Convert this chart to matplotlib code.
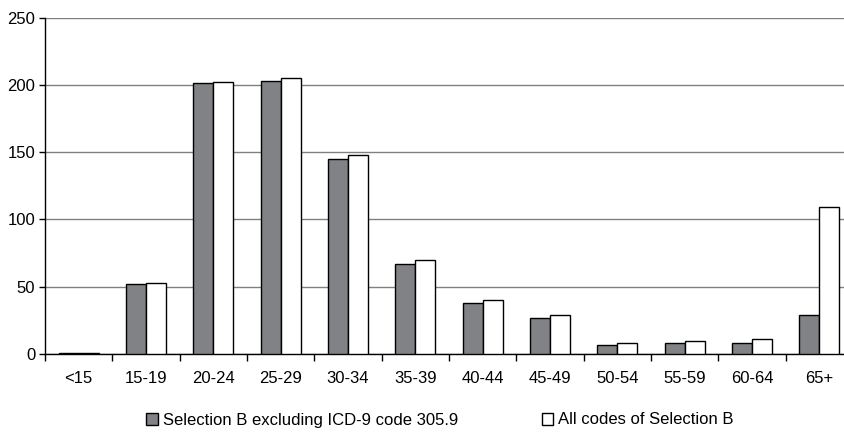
import matplotlib
matplotlib.use("Agg")
import matplotlib.pyplot as plt
import numpy as np

plt.rcParams['font.family'] = ['Liberation Sans', 'DejaVu Sans']

categories = ['<15', '15-19', '20-24', '25-29', '30-34', '35-39', '40-44',
              '45-49', '50-54', '55-59', '60-64', '65+']
excl_3059 = [1, 52, 201, 203, 145, 67, 38, 27, 7, 8, 8, 29]
all_codes = [1, 53, 202, 205, 148, 70, 40, 29, 8, 10, 11, 109]
yticks = [0, 50, 100, 150, 200, 250]
labels = ['Selection B excluding ICD-9 code 305.9', 'All codes of Selection B']

fig = plt.figure(figsize=(8.45, 4.42), dpi=100)
ax = fig.add_axes([45/845, 1 - 354/442, 808/845, (354 - 17.5)/442])

x = np.arange(len(categories))
w = 0.295
b1 = ax.bar(x - w/2, excl_3059, w, color='#808285', edgecolor='black', linewidth=1.0,
            label=labels[0], zorder=3)
b2 = ax.bar(x + w/2, all_codes, w, color='white', edgecolor='black', linewidth=1.0,
            label=labels[1], zorder=3)

ax.set_xlim(-0.5, len(categories) - 0.5)
ax.set_ylim(0, 250)
ax.set_yticks(yticks)
ax.set_yticklabels([str(v) for v in yticks], fontsize=12)
ax.yaxis.grid(True, color='#808080', linewidth=1.0, zorder=0)
ax.set_axisbelow(True)

ax.set_xticks(x)
ax.set_xticklabels(categories, fontsize=12)
ax.set_xticks(np.arange(len(categories) + 1) - 0.5, minor=True)
ax.tick_params(axis='x', which='major', length=0, pad=12)
ax.tick_params(axis='x', which='minor', length=5, width=1, color='black', direction='out')
ax.tick_params(axis='y', length=4, width=1, color='black', pad=3)

for s in ['top', 'right']:
    ax.spines[s].set_visible(False)
ax.spines['left'].set_color('black')
ax.spines['bottom'].set_color('black')
ax.spines['left'].set_linewidth(1)
ax.spines['bottom'].set_linewidth(1)

fig.legend(handles=[b1, b2], labels=labels, loc='center', bbox_to_anchor=(440/845, 1 - 420/442),
           ncol=2, frameon=False, fontsize=12, handlelength=0.7, handleheight=0.7,
           handletextpad=0.3, columnspacing=5.0)

fig.savefig('out.png', dpi=100)
